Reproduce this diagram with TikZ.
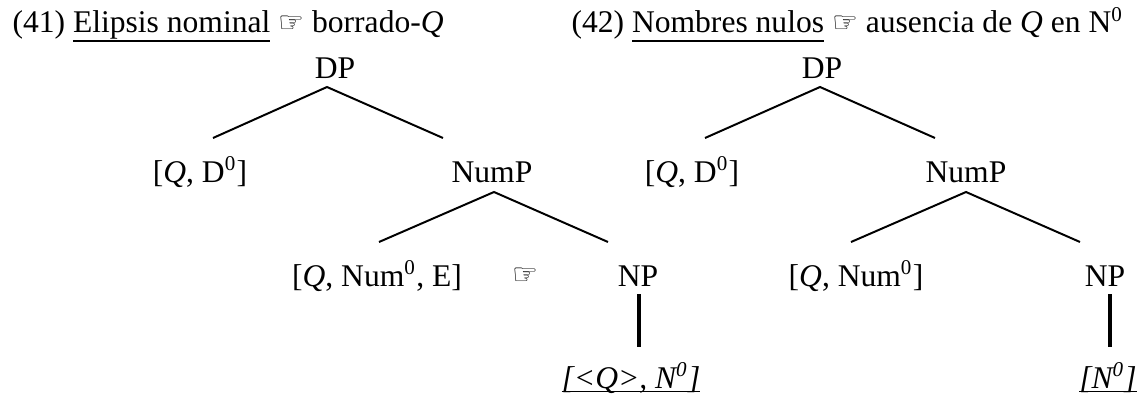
\documentclass[tikz,border=0pt,12pt]{standalone}
\usepackage{fontspec}
\setmainfont{Liberation Serif}
\newfontfamily\handfont{DejaVu Sans}
\newcommand{\hand}{{\handfont\fontsize{11}{11}\selectfont ☞}}
\newcommand{\ul}[2][3.4pt]{\sbox0{#2}\rlap{\rule[-#1]{\wd0}{0.6pt}}\usebox0}
\begin{document}
\begin{tikzpicture}[
        x=0.38pt, y=-0.38pt,
        font=\fontsize{12}{14}\selectfont,
        % Tiêu đề
        ttl/.style={anchor=base west, inner sep=0pt},
        % Nhãn nút
        lbl/.style={anchor=base, inner sep=0pt},
        % Nhánh chéo
        branch/.style={line width=0.75pt},
        % Nhánh đứng
        stem/.style={line width=1.4pt}
    ]
    \useasboundingbox (0,0) rectangle (1143,396);

    % Cây (41)
    \node [ttl] (tA) at (12,33) {(41) \ul{Elipsis nominal} \hand{} borrado-\textit{Q}};
    \node [lbl] (dpA) at (335,78) {DP};
    \node [lbl] (qdA) at (200,182) {[\textit{Q}, D\textsuperscript{0}]};
    \node [lbl] (numA) at (492,182) {NumP};
    \node [lbl] (qnA) at (377,286) {[\textit{Q}, Num\textsuperscript{0}, E]};
    \node [inner sep=0pt] (hA) at (525,276) {\hand};
    \node [lbl] (npA) at (638,286) {NP};
    \node [lbl] (nzA) at (631,388) {\ul[1.6pt]{\textit{[<Q>, N\textsuperscript{0}]}}};

    \coordinate (dpA-t) at (327,87);
    \coordinate (qdA-t) at (213,138);
    \coordinate (numA-b) at (443,138);
    \coordinate (numA-t) at (494,192);
    \coordinate (qnA-t) at (379,242);
    \coordinate (npA-t) at (608,242);
    \coordinate (npA-b) at (639,294);
    \coordinate (nzA-t) at (639,347);

    \draw [branch] (qdA-t) -- (dpA-t) -- (numA-b);
    \draw [branch] (qnA-t) -- (numA-t) -- (npA-t);
    \draw [stem] (npA-b) -- (nzA-t);

    % Cây (42)
    \node [ttl] (tB) at (571,33) {(42) \ul{Nombres nulos} \hand{} ausencia de \textit{Q} en N\textsuperscript{0}};
    \node [lbl] (dpB) at (822,78) {DP};
    \node [lbl] (qdB) at (692,182) {[\textit{Q}, D\textsuperscript{0}]};
    \node [lbl] (numB) at (966,182) {NumP};
    \node [lbl] (qnB) at (856,286) {[\textit{Q}, Num\textsuperscript{0}]};
    \node [lbl] (npB) at (1105,286) {NP};
    \node [lbl] (nzB) at (1108,388) {\ul[1.6pt]{\textit{[N\textsuperscript{0}]}}};

    \coordinate (dpB-t) at (820,87);
    \coordinate (qdB-t) at (705,138);
    \coordinate (numB-b) at (935,138);
    \coordinate (numB-t) at (966,192);
    \coordinate (qnB-t) at (851,242);
    \coordinate (npB-t) at (1080,242);
    \coordinate (npB-b) at (1110,294);
    \coordinate (nzB-t) at (1110,347);

    \draw [branch] (qdB-t) -- (dpB-t) -- (numB-b);
    \draw [branch] (qnB-t) -- (numB-t) -- (npB-t);
    \draw [stem] (npB-b) -- (nzB-t);

\end{tikzpicture}
\end{document}
